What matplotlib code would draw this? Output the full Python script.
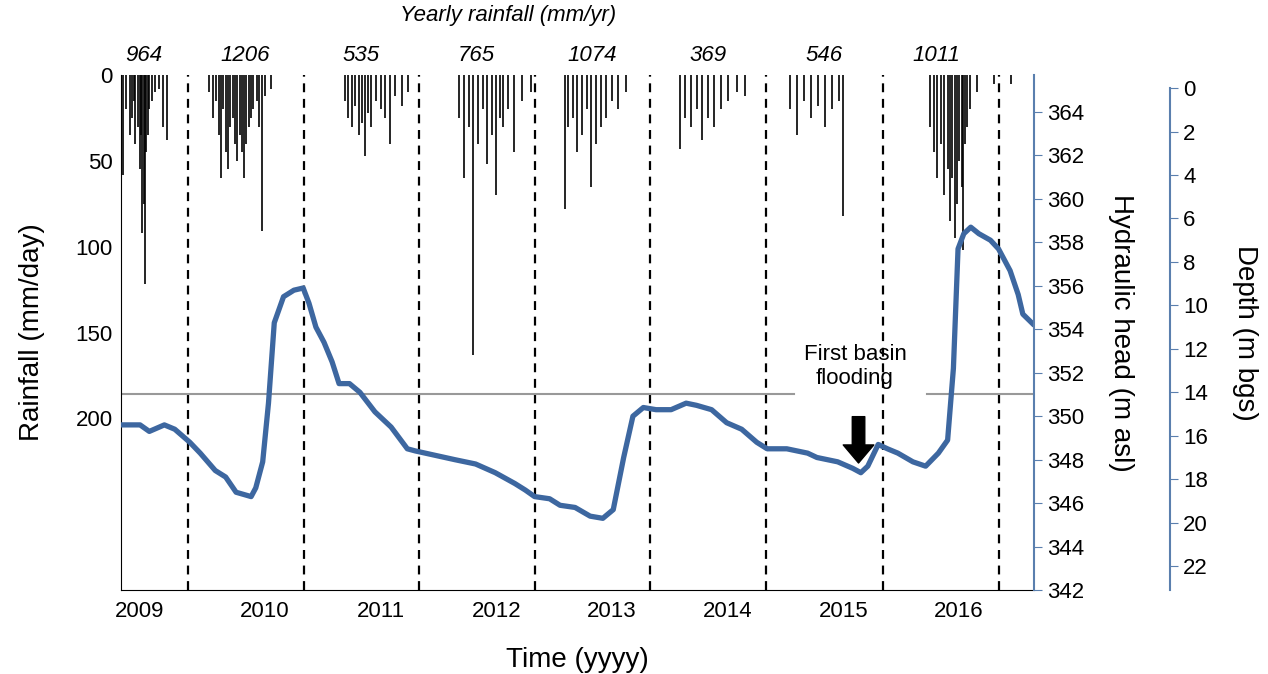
import matplotlib.pyplot as plt

# rainfall (decimal year, mm/day)
rain_t = [2009.27, 2009.30, 2009.33, 2009.35, 2009.37, 2009.38, 2009.40, 2009.42, 2009.43, 2009.44,
          2009.45, 2009.46, 2009.47, 2009.49, 2009.50, 2009.52, 2009.55, 2009.58, 2009.62, 2009.65,
          2010.02, 2010.05, 2010.08, 2010.10, 2010.12, 2010.14, 2010.16, 2010.18, 2010.20, 2010.22,
          2010.24, 2010.26, 2010.28, 2010.30, 2010.32, 2010.34, 2010.36, 2010.38, 2010.40, 2010.43,
          2010.45, 2010.47, 2010.50, 2010.55,
          2011.19, 2011.22, 2011.25, 2011.28, 2011.31, 2011.34, 2011.36, 2011.39, 2011.42, 2011.46,
          2011.50, 2011.54, 2011.58, 2011.62, 2011.68, 2011.74,
          2012.18, 2012.22, 2012.26, 2012.30, 2012.34, 2012.38, 2012.42, 2012.46, 2012.50, 2012.53,
          2012.56, 2012.60, 2012.65, 2012.72, 2012.80,
          2013.09, 2013.12, 2013.16, 2013.20, 2013.24, 2013.28, 2013.32, 2013.36, 2013.40, 2013.45,
          2013.50, 2013.55, 2013.62,
          2014.09, 2014.13, 2014.18, 2014.23, 2014.28, 2014.33, 2014.38, 2014.44, 2014.50, 2014.58, 2014.65,
          2015.04, 2015.10, 2015.16, 2015.22, 2015.28, 2015.34, 2015.40, 2015.46, 2015.50,
          2016.25, 2016.28, 2016.31, 2016.34, 2016.37, 2016.40, 2016.42, 2016.44, 2016.46, 2016.48,
          2016.50, 2016.52, 2016.53, 2016.55, 2016.57, 2016.59, 2016.65, 2016.80, 2016.95]
rain_v = [58, 20, 35, 25, 15, 40, 30, 55, 35, 92,
          75, 122, 45, 35, 20, 15, 10, 8, 30, 38,
          10, 25, 15, 35, 60, 20, 45, 55, 30, 25,
          40, 50, 35, 45, 60, 40, 30, 25, 20, 15,
          30, 91, 12, 8,
          15, 25, 30, 18, 35, 28, 47, 22, 30, 15,
          20, 25, 40, 12, 18, 10,
          25, 60, 30, 163, 40, 20, 52, 35, 70, 25,
          30, 20, 45, 15, 10,
          78, 30, 25, 45, 35, 20, 65, 40, 30, 25,
          15, 20, 10,
          43, 25, 30, 20, 38, 25, 30, 20, 15, 10, 12,
          20, 35, 15, 25, 18, 30, 20, 15, 82,
          30, 45, 60, 40, 70, 55, 85, 60, 95, 75,
          50, 65, 102, 40, 30, 20, 10, 5, 5]

# hydraulic head (decimal year, m asl)
head_t = [2009.255, 2009.42, 2009.50, 2009.63, 2009.72, 2009.85, 2009.94, 2010.07, 2010.16, 2010.25,
          2010.38, 2010.42, 2010.48, 2010.53, 2010.58, 2010.66, 2010.75, 2010.83, 2010.88, 2010.94,
          2011.01, 2011.08, 2011.14, 2011.23, 2011.32, 2011.45, 2011.53, 2011.59, 2011.66, 2011.73,
          2011.80, 2011.97, 2012.14, 2012.32, 2012.49, 2012.66, 2012.75, 2012.83, 2012.96, 2013.05,
          2013.18, 2013.31, 2013.42, 2013.51, 2013.60, 2013.68, 2013.77, 2013.88, 2014.01, 2014.14,
          2014.23, 2014.36, 2014.49, 2014.62, 2014.75, 2014.84, 2015.01, 2015.19, 2015.27, 2015.45,
          2015.58, 2015.65, 2015.71, 2015.80, 2015.88, 2015.97, 2016.10, 2016.21, 2016.32, 2016.40,
          2016.45, 2016.49, 2016.54, 2016.60, 2016.67, 2016.77, 2016.84, 2016.94, 2017.01, 2017.05,
          2017.146]
head_v = [349.6, 349.6, 349.3, 349.6, 349.4, 348.8, 348.3, 347.5, 347.2, 346.5,
          346.3, 346.7, 347.9, 350.6, 354.3, 355.5, 355.8, 355.9, 355.2, 354.1,
          353.4, 352.5, 351.5, 351.5, 351.1, 350.2, 349.8, 349.5, 349.0, 348.5,
          348.4, 348.2, 348.0, 347.8, 347.4, 346.9, 346.6, 346.3, 346.2, 345.9,
          345.8, 345.4, 345.3, 345.7, 348.1, 350.0, 350.4, 350.3, 350.3, 350.6,
          350.5, 350.3, 349.7, 349.4, 348.8, 348.5, 348.5, 348.3, 348.1, 347.9,
          347.6, 347.4, 347.7, 348.7, 348.5, 348.3, 347.9, 347.7, 348.3, 348.9,
          352.2, 357.7, 358.4, 358.7, 358.4, 358.1, 357.7, 356.7, 355.6, 354.7,
          354.2]

# yearly rainfall totals (mm/yr)
yearly_pos = [2009.45, 2010.33, 2011.33, 2012.33, 2013.33, 2014.33, 2015.33, 2016.30]
yearly_vals = ["964", "1206", "535", "765", "1074", "369", "546", "1011"]
year_labels = ["2009", "2010", "2011", "2012", "2013", "2014", "2015", "2016"]
year_label_pos = [2009.42, 2010.50, 2011.50, 2012.50, 2013.50, 2014.50, 2015.50, 2016.50]
boundaries = [2009.835, 2010.84, 2011.83, 2012.83, 2013.83, 2014.83, 2015.84, 2016.84]

plt.rcParams["font.family"] = ["Liberation Sans", "DejaVu Sans"]
blue = "#3d67a0"
spine_blue = "#5a7fae"

fig = plt.figure(figsize=(12.68, 6.74), dpi=100)
ax = fig.add_axes([0.0954, 0.1246, 0.72, 0.764])
x0, x1 = 2009.255, 2017.146
ax.set_xlim(x0, x1)
ax.set_ylim(300, 0)
ax.vlines(rain_t, 0, rain_v, color="black", linewidth=1.2)
ax.set_yticks([0, 50, 100, 150, 200])
ax.tick_params(axis="y", labelsize=16, length=0, pad=6)
ax.set_ylabel("Rainfall (mm/day)", fontsize=20, labelpad=22)
ax.set_xticks(year_label_pos)
ax.set_xticklabels(year_labels, fontsize=16)
ax.tick_params(axis="x", length=0, pad=8)
ax.set_xlabel("Time (yyyy)", fontsize=20, labelpad=18)
ax.spines["top"].set_visible(False)
ax.spines["right"].set_visible(False)

for b in boundaries:
    ax.axvline(b, color="black", linestyle=(0, (4, 3)), linewidth=1.6)

# flooding threshold line with gap for label
ax.plot([x0, 2015.07], [186, 186], color="#999999", linewidth=1.5)
ax.plot([2016.22, x1], [186, 186], color="#999999", linewidth=1.5)
ax.text(2015.60, 170, "First basin\nflooding", ha="center", va="center", fontsize=16)
ax.annotate("", xy=(2015.63, 226), xytext=(2015.63, 199),
            arrowprops=dict(facecolor="black", edgecolor="black", width=9, headwidth=22, headlength=13))

for p, v in zip(yearly_pos, yearly_vals):
    ax.text(p, -11.6, v, ha="center", va="center", fontsize=16, style="italic")
ax.text(2012.6, -35, "Yearly rainfall (mm/yr)", ha="center", va="center", fontsize=16, style="italic")

ax2 = ax.twinx()
ax2.set_ylim(342, 365.7)
ax2.plot(head_t, head_v, color=blue, linewidth=3.8, solid_capstyle="round", solid_joinstyle="round")
ax2.set_yticks(range(342, 365, 2))
ax2.tick_params(axis="y", labelsize=16, colors="black", length=6, color=spine_blue)
ax2.spines["right"].set_color(spine_blue)
ax2.spines["right"].set_linewidth(1.5)
for s in ["top", "left", "bottom"]:
    ax2.spines[s].set_visible(False)
ax2.set_ylabel("Hydraulic head (m asl)", fontsize=20, rotation=270, labelpad=36)

ax3 = ax.twinx()
ax3.spines["right"].set_position(("axes", 1.149))
ax3.set_ylim(23.1, -0.6)
ax3.set_yticks(range(0, 23, 2))
ax3.tick_params(axis="y", labelsize=16, colors="black", length=6, color=spine_blue)
ax3.spines["right"].set_color(spine_blue)
ax3.spines["right"].set_linewidth(1.5)
ax3.spines["right"].set_bounds(23.1, 0)
for s in ["top", "left", "bottom"]:
    ax3.spines[s].set_visible(False)
ax3.set_ylabel("Depth (m bgs)", fontsize=20, rotation=270, labelpad=36)

fig.savefig("out.png", dpi=100)
